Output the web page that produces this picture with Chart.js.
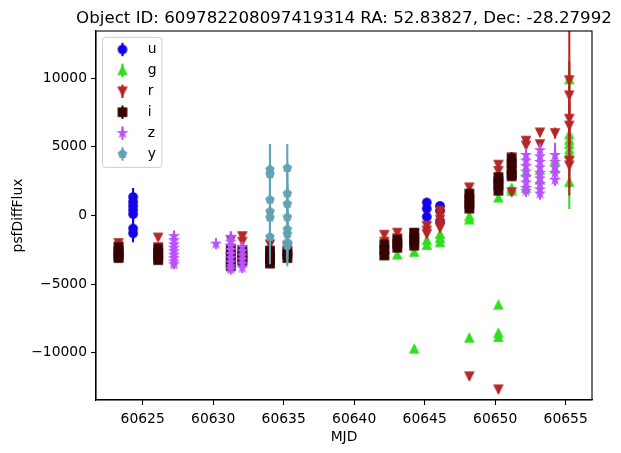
<!DOCTYPE html>
<html>
<head>
<meta charset="utf-8">
<script src="https://cdn.jsdelivr.net/npm/chart.js"></script>
<style>
  html, body { margin: 0; padding: 0; background: #ffffff; }
  #wrap { width: 621px; height: 453px; }
</style>
</head>
<body>
<div id="wrap"><canvas id="c" width="621" height="453"></canvas></div>
<script>
// ---------------- data ----------------
const titleText = "Object ID: 609782208097419314 RA: 52.83827, Dec: -28.27992";
const xTitle = "MJD";
const yTitle = "psfDiffFlux";
const bandNames = ["u", "g", "r", "i", "z", "y"];
const xTicks = [60625, 60630, 60635, 60640, 60645, 60650, 60655];
const yTicks = [-10000, -5000, 0, 5000, 10000];

const uMjd  = [60624.32,60624.32,60624.32,60624.32,60624.32,60624.32,60624.32, 60645.15,60645.15,60645.15, 60646.09,60646.09,60646.09];
const uFlux = [1350,1000,700,400,100,-950,-1300, 950,500,-100, 700,350,-450];
const uErr  = [650,620,620,600,600,650,650, 300,300,300, 300,300,300];

const gMjd  = [60642.14, 60643.06, 60644.26,60644.26, 60645.15,60645.15, 60646.09,60646.09,60646.09,
               60648.17,60648.17,60648.17, 60650.23,60650.23,60650.23,60650.23, 60651.17,60651.17,
               60652.19,60652.19, 60653.18,60653.18, 60654.25,60654.25,
               60655.26,60655.26,60655.26,60655.26,60655.26,60655.26,60655.26];
const gFlux = [-2900, -2850, -2650,-9700, -1800,-2150, -1350,-1650,-1950,
               -50,-300,-8900, 1300,-6500,-8550,-8850, 2000,1800,
               3150,2000, 3300,2600, 4000,3400,
               9900,5900,5500,5200,4800,4500,2430];
const gErr  = [150, 150, 150,200, 150,150, 150,150,150,
               150,150,200, 150,200,200,200, 200,200,
               300,300, 300,300, 400,400,
               1000,800,700,700,700,700,1950];

const rMjd  = [60623.29,60623.29, 60626.10,60626.10, 60631.25,60631.25, 60632.07,60632.07, 60634.03, 60635.26,
               60642.14,60642.14, 60643.06,60643.06, 60644.26,60644.26, 60645.15,60645.15,60645.15,
               60646.09,60646.09,60646.09,60646.09,60646.09, 60648.17,60648.17, 60650.23,60650.23,60650.23,
               60651.17,60651.17, 60652.19,60652.19, 60653.18,60653.18, 60654.25,
               60655.26,60655.26,60655.26,60655.26,60655.26,60655.26];
const rFlux = [-2000,-2250, -1600,-2300, -1800,-2400, -1500,-1900, -2100, -2250,
               -1400,-1900, -1250,-1650, -1300,-1900, -750,-1100,-1350,
               350,0,-300,-600,-900, 2050,-11700, 3700,3250,-12650,
               4250,1700, 5450,5100, 6050,5200, 6000,
               9850,8750,7050,6550,4000,3650];
const rErr  = [150,150, 150,150, 200,200, 200,200, 200, 200,
               150,150, 150,150, 150,150, 200,200,200,
               200,200,200,200,200, 200,250, 250,250,250,
               250,250, 300,300, 300,300, 400,
               4000,2500,2000,1800,2000,2200];

const iMjd  = [60623.29,60623.29,60623.29,60623.29,60623.29, 60626.10,60626.10,60626.10,60626.10,
               60631.25,60631.25,60631.25,60631.25, 60632.07,60632.07,60632.07,60632.07,
               60634.03,60634.03,60634.03,60634.03, 60635.26,60635.26,60635.26,
               60642.14,60642.14,60642.14, 60643.06,60643.06,60643.06, 60644.26,60644.26,60644.26,60644.26,
               60648.17,60648.17,60648.17,60648.17, 60650.23,60650.23,60650.23,60650.23,
               60651.17,60651.17,60651.17,60651.17,60651.17];
const iFlux = [-2300,-2550,-2800,-3000,-3100, -2400,-2700,-3000,-3250,
               -2500,-2900,-3400,-3700, -2500,-2800,-3100,-3300,
               -2550,-2900,-3200,-3500, -2550,-2800,-3100,
               -2100,-2500,-2900, -1750,-2050,-2350, -1250,-1600,-1900,-2200,
               1600,1200,850,500, 2800,2500,2200,1800,
               4150,3800,3400,3000,2850];
const iErr  = [150,150,150,150,150, 150,150,150,150,
               200,200,200,200, 200,200,200,200,
               200,200,200,200, 200,200,200,
               150,150,150, 150,150,150, 150,150,150,150,
               200,200,200,200, 250,250,250,250,
               450,300,300,300,300];

const zMjd  = [60627.22,60627.22,60627.22,60627.22,60627.22,60627.22,60627.22,60627.22,60627.22,
               60630.20,
               60631.25,60631.25,60631.25,60631.25,60631.25,60631.25,60631.25,60631.25,60631.25,
               60632.07,60632.07,60632.07,60632.07,60632.07,60632.07,
               60652.19,60652.19,60652.19,60652.19,60652.19,60652.19,60652.19,60652.19,
               60653.18,60653.18,60653.18,60653.18,60653.18,60653.18,60653.18,60653.18,60653.18,
               60654.25,60654.25,60654.25,60654.25,60654.25];
const zFlux = [-1500,-1800,-2100,-2350,-2600,-2850,-3100,-3350,-3550,
               -2050,
               -1550,-1900,-2200,-2500,-2800,-3100,-3400,-3700,-3900,
               -2300,-2600,-2900,-3200,-3500,-3800,
               4400,4000,3600,3200,2800,2400,2000,1800,
               4750,4300,3900,3500,3100,2700,2300,1900,1600,
               4400,3900,3500,3100,2600];
const zErr  = [400,350,350,350,350,350,350,350,350,
               400,
               400,400,400,400,400,400,400,400,400,
               400,400,400,400,400,400,
               500,450,450,450,450,450,450,450,
               500,450,450,450,450,450,450,450,450,
               900,700,600,500,450];

const yMjd  = [60634.03,60634.03,60634.03,60634.03,60634.03,60634.03,
               60635.26,60635.26,60635.26,60635.26,60635.26,60635.26,60635.26,60635.26];
const yFlux = [3350,3000,1150,300,-150,-1550,
               3450,1600,850,-120,-1000,-1350,-1950,-2200];
const yErr  = [1850,2100,1500,1600,1700,2000,
               1750,1500,1500,1600,1700,1800,1500,1500];

// ---------------- styles ----------------
const bandColors = {u:"#1600ea", g:"#31de1f", r:"#b52626", i:"#370201", z:"#ba52ff", y:"#61a2b3"};
const bandShapes = {u:"circle", g:"triUp", r:"triDown", i:"square", z:"star", y:"pentagon"};
const MS = 8.33; // marker size (px)

function makeMarker(shape, color) {
  const s = 16, m = s / 2, h = MS / 2;
  const c = document.createElement("canvas");
  c.width = s; c.height = s;
  const ctx = c.getContext("2d");
  ctx.fillStyle = color; ctx.strokeStyle = color; ctx.lineWidth = 1.39; ctx.lineJoin = "miter";
  ctx.beginPath();
  if (shape === "circle") {
    ctx.arc(m, m, h, 0, Math.PI * 2);
  } else if (shape === "triUp") {
    ctx.moveTo(m, m - h); ctx.lineTo(m - h, m + h); ctx.lineTo(m + h, m + h); ctx.closePath();
  } else if (shape === "triDown") {
    ctx.moveTo(m, m + h); ctx.lineTo(m - h, m - h); ctx.lineTo(m + h, m - h); ctx.closePath();
  } else if (shape === "square") {
    ctx.rect(m - h, m - h, MS, MS);
  } else if (shape === "star") {
    const ri = h * 0.381966;
    for (let k = 0; k < 10; k++) {
      const a = -Math.PI / 2 + k * Math.PI / 5;
      const rr = (k % 2 === 0) ? h : ri;
      const px = m + rr * Math.cos(a), py = m + rr * Math.sin(a);
      if (k === 0) ctx.moveTo(px, py); else ctx.lineTo(px, py);
    }
    ctx.closePath();
  } else if (shape === "pentagon") {
    for (let k = 0; k < 5; k++) {
      const a = -Math.PI / 2 + k * 2 * Math.PI / 5;
      const px = m + h * Math.cos(a), py = m + h * Math.sin(a);
      if (k === 0) ctx.moveTo(px, py); else ctx.lineTo(px, py);
    }
    ctx.closePath();
  }
  ctx.fill(); ctx.stroke();
  return c;
}

const bandData = {
  u: [uMjd, uFlux, uErr], g: [gMjd, gFlux, gErr], r: [rMjd, rFlux, rErr],
  i: [iMjd, iFlux, iErr], z: [zMjd, zFlux, zErr], y: [yMjd, yFlux, yErr]
};
const markers = {};
bandNames.forEach(b => { markers[b] = makeMarker(bandShapes[b], bandColors[b]); });

const datasets = bandNames.map((b, idx) => {
  const [mx, fl, er] = bandData[b];
  return {
    label: b,
    data: mx.map((x, k) => ({x: x, y: fl[k]})),
    errors: er,
    pointStyle: markers[b],
    pointRadius: 5,
    pointHoverRadius: 5,
    backgroundColor: bandColors[b],
    borderColor: bandColors[b],
    showLine: false,
    order: bandNames.length - idx
  };
});

// ---------------- plugins ----------------
const FONT = "DejaVu Sans";
const errorBarPlugin = {
  id: "errorBars",
  beforeDatasetDraw(chart, args) {
    const ds = chart.data.datasets[args.index];
    const xs = chart.scales.x, ys = chart.scales.y, ca = chart.chartArea;
    const ctx = chart.ctx;
    ctx.save();
    ctx.beginPath();
    ctx.rect(ca.left, ca.top, ca.right - ca.left, ca.bottom - ca.top);
    ctx.clip();
    ctx.strokeStyle = ds.borderColor;
    ctx.lineWidth = 2.08;
    ctx.lineCap = "butt";
    ds.data.forEach((p, k) => {
      const e = ds.errors[k];
      const px = xs.getPixelForValue(p.x);
      ctx.beginPath();
      ctx.moveTo(px, ys.getPixelForValue(p.y + e));
      ctx.lineTo(px, ys.getPixelForValue(p.y - e));
      ctx.stroke();
    });
    ctx.restore();
  }
};

const framePlugin = {
  id: "frameTitleLegend",
  afterDraw(chart) {
    const ctx = chart.ctx, ca = chart.chartArea;
    ctx.save();
    // axes frame
    ctx.strokeStyle = "#000";
    ctx.lineWidth = 1.1;
    ctx.strokeRect(ca.left, ca.top, ca.right - ca.left, ca.bottom - ca.top);
    // title
    ctx.fillStyle = "#000";
    ctx.font = "16.67px '" + FONT + "'";
    ctx.textAlign = "center";
    ctx.textBaseline = "alphabetic";
    ctx.fillText(titleText, (ca.left + ca.right) / 2, ca.top - 8.3);
    // legend
    const lx = ca.left + 6.5, ly = ca.top + 6.3, lw = 59.4, lh = 130;
    ctx.beginPath();
    if (ctx.roundRect) ctx.roundRect(lx, ly, lw, lh, 3); else ctx.rect(lx, ly, lw, lh);
    ctx.fillStyle = "rgba(255,255,255,0.8)";
    ctx.fill();
    ctx.strokeStyle = "#cccccc";
    ctx.lineWidth = 1;
    ctx.stroke();
    ctx.font = "13.89px '" + FONT + "'";
    ctx.textAlign = "left";
    ctx.textBaseline = "middle";
    bandNames.forEach((b, k) => {
      const cy = ly + 12.2 + k * 20.9;
      const mx = lx + 20;
      ctx.strokeStyle = bandColors[b];
      ctx.lineWidth = 2.08;
      ctx.beginPath();
      ctx.moveTo(mx, cy - 6.7); ctx.lineTo(mx, cy + 6.7); ctx.stroke();
      const mk = markers[b];
      ctx.drawImage(mk, mx - mk.width / 2, cy - mk.height / 2);
      ctx.fillStyle = "#000";
      ctx.fillText(b, lx + 45.3, cy);
    });
    ctx.restore();
  }
};

Chart.defaults.color = "#000";
Chart.defaults.font.family = FONT;
Chart.defaults.font.size = 13.89;

new Chart(document.getElementById("c"), {
  type: "scatter",
  data: { datasets: datasets },
  options: {
    responsive: false,
    animation: false,
    devicePixelRatio: 1,
    layout: { padding: { left: 0, right: 29, top: 31, bottom: 0 } },
    plugins: { legend: { display: false }, tooltip: { enabled: false } },
    scales: {
      x: {
        type: "linear",
        min: 60621.69,
        max: 60656.87,
        afterFit(scale) { scale.height = 53; },
        afterBuildTicks(scale) { scale.ticks = xTicks.map(v => ({value: v})); },
        ticks: { autoSkip: false, maxRotation: 0, padding: 6, color: "#000",
                 callback: v => String(v) },
        grid: { display: true, drawOnChartArea: false, drawTicks: true, tickLength: 5,
                tickColor: "#000", tickWidth: 1.1 },
        border: { display: true, color: "#000", width: 1.1 },
        title: { display: true, text: xTitle, color: "#000",
                 font: { size: 13.89, family: FONT }, padding: { top: 0, bottom: 7 } }
      },
      y: {
        type: "linear",
        min: -13430,
        max: 13430,
        afterFit(scale) { scale.width = 96; },
        afterBuildTicks(scale) { scale.ticks = yTicks.map(v => ({value: v})); },
        ticks: { autoSkip: false, padding: 4, color: "#000",
                 callback: v => (v < 0 ? "\u2212" + Math.abs(v) : String(v)) },
        grid: { display: true, drawOnChartArea: false, drawTicks: true, tickLength: 5,
                tickColor: "#000", tickWidth: 1.1 },
        border: { display: true, color: "#000", width: 1.1 },
        title: { display: true, text: yTitle, color: "#000",
                 font: { size: 13.89, family: FONT }, padding: { top: 10, bottom: 0 } }
      }
    }
  },
  plugins: [errorBarPlugin, framePlugin]
});
</script>
</body>
</html>
